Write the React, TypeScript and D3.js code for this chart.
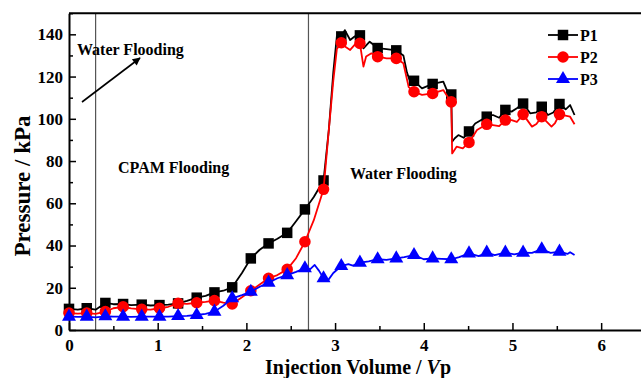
import * as d3 from "d3";
import { useEffect, useRef } from "react";

// injection volume (Vp) where the markers sit
const markX = [0, 0.2, 0.41, 0.61, 0.82, 1.02, 1.23, 1.44, 1.64, 1.84, 2.05, 2.25, 2.46, 2.66, 2.87, 3.07, 3.28, 3.48, 3.69, 3.89, 4.1, 4.31, 4.51, 4.71, 4.92, 5.12, 5.33, 5.53];

const p1Line: [number, number][] = [
  [0, 10], [0.1, 9.6], [0.2, 10.3], [0.3, 9.6], [0.41, 12.8], [0.5, 12.2], [0.61, 12.3], [0.7, 11.8],
  [0.82, 12], [0.92, 11.6], [1.02, 11.8], [1.12, 12], [1.23, 12.6], [1.33, 13.8], [1.44, 15.3], [1.54, 16.2],
  [1.64, 17.8], [1.74, 18.6], [1.84, 20.2], [1.95, 27], [2.05, 33.9], [2.15, 38], [2.25, 41], [2.35, 43.2],
  [2.46, 46], [2.56, 51.5], [2.66, 57.1], [2.76, 63], [2.87, 70.8], [2.93, 95], [2.98, 122], [3.02, 139],
  [3.07, 139], [3.11, 142], [3.17, 137.3], [3.22, 139], [3.28, 139.5], [3.32, 133.4], [3.39, 136.5], [3.48, 133.5],
  [3.58, 133], [3.69, 132.4], [3.77, 130], [3.81, 122], [3.84, 118.4], [3.89, 118], [3.98, 114.4], [4.1, 116.5],
  [4.22, 117.6], [4.26, 113.6], [4.31, 111.5], [4.32, 89.2], [4.35, 90.8], [4.39, 92.3], [4.45, 91], [4.51, 94],
  [4.58, 97.8], [4.71, 101], [4.78, 101.8], [4.85, 100.5], [4.92, 104.2], [4.99, 103.4], [5.05, 105], [5.12, 107.2],
  [5.2, 102.6], [5.27, 103], [5.33, 105.7], [5.4, 101.8], [5.46, 103], [5.53, 107], [5.6, 104.5], [5.65, 106.5],
  [5.7, 101.8],
];

const p2Line: [number, number][] = [
  [0, 8], [0.1, 7.8], [0.2, 8], [0.3, 7.6], [0.41, 8.7], [0.5, 10.3], [0.61, 11], [0.7, 10.2],
  [0.82, 9.8], [0.92, 9.6], [1.02, 10.3], [1.12, 11], [1.23, 12.6], [1.33, 12.4], [1.44, 12.9], [1.54, 13.3],
  [1.64, 13.9], [1.74, 13], [1.84, 12.3], [1.95, 15.5], [2.05, 18.6], [2.15, 21.5], [2.25, 24.5], [2.35, 26],
  [2.46, 28.7], [2.56, 34], [2.66, 41.8], [2.76, 52], [2.87, 66.6], [2.93, 95], [2.98, 118], [3.02, 133],
  [3.07, 136], [3.12, 134], [3.17, 132.6], [3.22, 135], [3.28, 135.7], [3.32, 124.7], [3.35, 129.5], [3.41, 131],
  [3.48, 129.4], [3.58, 128.6], [3.69, 128.6], [3.77, 126.3], [3.83, 115], [3.89, 112.8], [3.98, 111.3], [4.1, 112],
  [4.22, 113.6], [4.28, 109.7], [4.31, 108], [4.32, 83.6], [4.37, 86.8], [4.44, 86], [4.51, 88.8], [4.6, 94.7],
  [4.71, 97.4], [4.78, 97], [4.85, 96.5], [4.92, 99.4], [4.99, 99.4], [5.05, 98.5], [5.12, 102.1], [5.22, 96.3],
  [5.27, 97.5], [5.33, 101], [5.44, 96.3], [5.48, 98], [5.53, 102.1], [5.65, 101], [5.7, 97.4],
];

const p3Line: [number, number][] = [
  [0, 6.3], [0.1, 6.2], [0.2, 6.3], [0.3, 6], [0.41, 6.5], [0.5, 6.3], [0.61, 6.3], [0.7, 6.2],
  [0.82, 6.3], [0.92, 6.3], [1.02, 6.3], [1.12, 6.3], [1.23, 6.6], [1.33, 6.7], [1.44, 7.1], [1.54, 7.6],
  [1.64, 8.7], [1.74, 11.5], [1.84, 15], [1.95, 16.5], [2.05, 18.1], [2.15, 20.5], [2.25, 22.4], [2.35, 24.5],
  [2.46, 26], [2.56, 27.5], [2.66, 29.2], [2.72, 28.8], [2.77, 30.8], [2.82, 28], [2.87, 24.5], [2.92, 23.5],
  [2.98, 27], [3.07, 30.3], [3.15, 31.2], [3.2, 30.5], [3.28, 31.9], [3.38, 32.5], [3.48, 33.5], [3.58, 33.2],
  [3.69, 33.9], [3.78, 34.5], [3.89, 35.5], [4.0, 33.5], [4.1, 33.9], [4.2, 33.7], [4.31, 33.5], [4.4, 34.5],
  [4.51, 36.3], [4.62, 35], [4.71, 36.6], [4.8, 35.5], [4.92, 36.6], [5.02, 35.8], [5.12, 36.6], [5.22, 36.5],
  [5.33, 38.2], [5.43, 36.5], [5.53, 37.1], [5.62, 36], [5.65, 36.8], [5.7, 35.5],
];

const seriesNames = ["P1", "P2", "P3"];
const seriesColors = ["#000000", "#ff0000", "#0000ff"];

const xTicks = [0, 1, 2, 3, 4, 5, 6];
const xMinor = [0.5, 1.5, 2.5, 3.5, 4.5, 5.5, 6.5];
const yTicks = [0, 20, 40, 60, 80, 100, 120, 140];
const yMinor = [10, 30, 50, 70, 90, 110, 130, 150];

// stage boundaries (Vp)
const stageLines = [0.3, 2.7];

const W = 641;
const H = 378;
const FONT = "'Liberation Serif', 'Times New Roman', serif";

const App = () => {
  const ref = useRef<SVGSVGElement>(null);

  useEffect(() => {
    const svg = d3.select(ref.current);
    svg.selectAll("*").remove();

    const x = d3.scaleLinear().domain([0, 6.5]).range([69, 645.5]);
    const y = d3.scaleLinear().domain([0, 150]).range([330, 13.2]);

    svg.append("rect").attr("width", W).attr("height", H).attr("fill", "#fff");

    // arrow head
    svg
      .append("defs")
      .append("marker")
      .attr("id", "arrow")
      .attr("viewBox", "0 0 10 10")
      .attr("refX", 9)
      .attr("refY", 5)
      .attr("markerWidth", 10)
      .attr("markerHeight", 8)
      .attr("markerUnits", "userSpaceOnUse")
      .attr("orient", "auto")
      .append("path")
      .attr("d", "M0,0L10,5L0,10Z")
      .attr("fill", "#000");

    // stage boundary lines
    svg
      .selectAll("line.stage")
      .data(stageLines)
      .join("line")
      .attr("x1", (d) => x(d))
      .attr("x2", (d) => x(d))
      .attr("y1", y(150))
      .attr("y2", y(0))
      .attr("stroke", "#555")
      .attr("stroke-width", 1.2);

    // frame top + right
    svg
      .append("path")
      .attr("d", `M${x(0)},${y(150)}H${x(6.5)}V${y(0)}`)
      .attr("fill", "none")
      .attr("stroke", "#000")
      .attr("stroke-width", 2);

    // axes
    svg
      .append("g")
      .attr("transform", `translate(0,${y(0)})`)
      .call(d3.axisBottom(x).tickValues(xTicks).tickSize(-7).tickSizeOuter(0).tickPadding(9).tickFormat(d3.format("d")));
    svg
      .append("g")
      .attr("transform", `translate(0,${y(0)})`)
      .call(d3.axisBottom(x).tickValues(xMinor).tickSize(-4).tickSizeOuter(0).tickFormat(() => ""))
      .select(".domain")
      .remove();

    svg
      .append("g")
      .attr("transform", `translate(${x(0)},0)`)
      .call(d3.axisLeft(y).tickValues(yTicks).tickSize(-7).tickSizeOuter(0).tickPadding(6).tickFormat(d3.format("d")));
    svg
      .append("g")
      .attr("transform", `translate(${x(0)},0)`)
      .call(d3.axisLeft(y).tickValues(yMinor).tickSize(-4).tickSizeOuter(0).tickFormat(() => ""))
      .select(".domain")
      .remove();

    svg.selectAll(".domain").attr("stroke-width", 2);
    svg.selectAll(".tick line").attr("stroke-width", 1.5);
    svg
      .selectAll(".tick text")
      .attr("font-family", FONT)
      .attr("font-size", 17)
      .attr("font-weight", "bold")
      .attr("fill", "#000");

    // series
    const lines = [p1Line, p2Line, p3Line];
    const symbols = [d3.symbolSquare, d3.symbolCircle, d3.symbolTriangle];
    const sizes = [110, 105, 85];
    const lineGen = d3
      .line<[number, number]>()
      .x((d) => x(d[0]))
      .y((d) => y(d[1]));

    lines.forEach((data, i) => {
      svg
        .append("path")
        .datum(data)
        .attr("d", lineGen)
        .attr("fill", "none")
        .attr("stroke", seriesColors[i])
        .attr("stroke-width", 1.8)
        .attr("stroke-linejoin", "round");

      const marks = markX
        .map((mx) => data.find((p) => Math.abs(p[0] - mx) < 0.005))
        .filter((p) => p) as [number, number][];

      svg
        .selectAll(`path.mark${i}`)
        .data(marks)
        .join("path")
        .attr("class", `mark${i}`)
        .attr("transform", (d) => `translate(${x(d[0])},${y(d[1])})`)
        .attr("d", d3.symbol().type(symbols[i]).size(sizes[i])())
        .attr("fill", seriesColors[i]);
    });

    // legend
    const legend = svg.append("g").attr("transform", "translate(548,35)");
    seriesNames.forEach((name, i) => {
      const g = legend.append("g").attr("transform", `translate(0,${i * 22})`);
      g.append("line").attr("x1", 0).attr("x2", 30).attr("stroke", seriesColors[i]).attr("stroke-width", 1.8);
      g.append("path")
        .attr("transform", "translate(15,0)")
        .attr("d", d3.symbol().type(symbols[i]).size(sizes[i])())
        .attr("fill", seriesColors[i]);
      g.append("text")
        .attr("x", 32)
        .attr("dy", "0.35em")
        .attr("font-family", FONT)
        .attr("font-size", 16)
        .attr("font-weight", "bold")
        .text(name);
    });

    // annotations
    const note = (tx: number, ty: number, label: string) =>
      svg
        .append("text")
        .attr("x", tx)
        .attr("y", ty)
        .attr("font-family", FONT)
        .attr("font-size", 16)
        .attr("font-weight", "bold")
        .text(label);
    note(77, 55, "Water Flooding");
    note(118, 173, "CPAM Flooding");
    note(350, 179, "Water Flooding");

    svg
      .append("line")
      .attr("x1", 82)
      .attr("y1", 102)
      .attr("x2", 140)
      .attr("y2", 58)
      .attr("stroke", "#000")
      .attr("stroke-width", 1.6)
      .attr("marker-end", "url(#arrow)");

    // axis titles
    const xTitle = svg
      .append("text")
      .attr("x", 358)
      .attr("y", 374)
      .attr("text-anchor", "middle")
      .attr("font-family", FONT)
      .attr("font-size", 20)
      .attr("font-weight", "bold");
    xTitle.append("tspan").text("Injection Volume  / ");
    xTitle.append("tspan").attr("font-style", "italic").text("V");
    xTitle.append("tspan").text("p");

    svg
      .append("text")
      .attr("transform", "translate(30,186) rotate(-90)")
      .attr("text-anchor", "middle")
      .attr("font-family", FONT)
      .attr("font-size", 23)
      .attr("font-weight", "bold")
      .text("Pressure / kPa");
  }, []);

  return <svg ref={ref} width={W} height={H} style={{ position: "absolute", left: 0, top: 0 }} />;
};

export default App;
